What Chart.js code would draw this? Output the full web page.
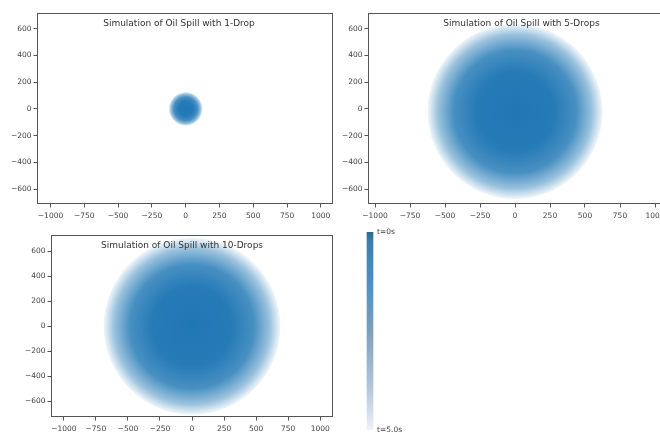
<!DOCTYPE html>
<html>
<head>
<meta charset="utf-8">
<script src="https://cdn.jsdelivr.net/npm/chart.js@4.4.1/dist/chart.umd.min.js"></script>
<style>
    html, body { margin: 0; padding: 0; background: #fff; overflow: hidden; }
    body { width: 660px; height: 437px; position: relative; }
    .box { position: absolute; }
</style>
</head>
<body>
<div class="box" style="left:3px;top:13px;width:331px;height:210px"><canvas id="spill1"></canvas></div>
<div class="box" style="left:334px;top:13px;width:345px;height:210px"><canvas id="spill5"></canvas></div>
<div class="box" style="left:17px;top:235px;width:317px;height:201px"><canvas id="spill10"></canvas></div>
<div class="box" style="left:364px;top:227px;width:70px;height:208px"><canvas id="timeBar"></canvas></div>
<script>
// tick positions
const xTicks = [-1000, -750, -500, -250, 0, 250, 500, 750, 1000];
const yTicks = [-600, -400, -200, 0, 200, 400, 600];

// one spill per panel: centre and final radius of the slick (data units)
const spillTitles = [
    'Simulation of Oil Spill with 1-Drop',
    'Simulation of Oil Spill with 5-Drops',
    'Simulation of Oil Spill with 10-Drops'
];
const spillX = [0, 0, 0];
const spillY = [0, -20, 0];
const spillRadius = [125, 625, 690];

// axis limits per panel
const xMin = [-1100, -1050, -1100];
const xMax = [1090, 1100, 1100];
const yMin = [-712, -712, -725];
const yMax = [718, 718, 730];

// time bar
const timeRange = [0, 5];
const timeLabels = ['t=0s', 't=5.0s'];

const OIL = '31,119,180';
const tickFont = { family: 'DejaVu Sans', size: 7.5 };
const titleShift = [-6, 3, -10];

// the slick is big: don't let it push the axes around
Chart.BubbleController.prototype.getMaxOverflow = function () { return false; };

// frame round the axes + title inside at the top
const framePlugin = {
    id: 'frame',
    afterDatasetsDraw(chart, args, opts) {
        const { ctx, chartArea: a } = chart;
        ctx.save();
        ctx.strokeStyle = '#555';
        ctx.lineWidth = 1;
        ctx.strokeRect(Math.round(a.left) + 0.5, Math.round(a.top) + 0.5, Math.round(a.right - a.left) - 1, Math.round(a.bottom - a.top) - 1);
        if (opts.text) {
            ctx.fillStyle = '#333';
            ctx.font = '9px "DejaVu Sans"';
            ctx.textAlign = 'center';
            ctx.textBaseline = 'middle';
            ctx.fillText(opts.text, (a.left + a.right) / 2 + (opts.shift || 0), a.top + 11);
        }
        ctx.restore();
    }
};

function pxRadius(chart, r) {
    const sx = chart.scales.x;
    const d = Math.abs(sx.getPixelForValue(r) - sx.getPixelForValue(0));
    return isFinite(d) ? d : 0;
}

function oilFill(c, r) {
    const chart = c.chart;
    const fallback = 'rgba(' + OIL + ',0.8)';
    if (!chart.chartArea || !c.raw) return fallback;
    const cx = chart.scales.x.getPixelForValue(c.raw.x);
    const cy = chart.scales.y.getPixelForValue(c.raw.y);
    const rp = pxRadius(chart, r);
    if (!isFinite(cx) || !isFinite(cy) || !(rp > 0)) return fallback;
    const g = chart.ctx.createRadialGradient(cx, cy, 0, cx, cy, rp);
    g.addColorStop(0, 'rgba(' + OIL + ',1)');
    g.addColorStop(0.45, 'rgba(' + OIL + ',0.97)');
    g.addColorStop(0.7, 'rgba(' + OIL + ',0.82)');
    g.addColorStop(0.88, 'rgba(' + OIL + ',0.45)');
    g.addColorStop(1, 'rgba(' + OIL + ',0.06)');
    return g;
}

function axis(min, max, ticks, size, pad) {
    return {
        type: 'linear',
        min: min,
        max: max,
        afterBuildTicks: s => { s.ticks = ticks.map(v => ({ value: v })); },
        afterFit: s => {
            if (s.isHorizontal()) s.height = size; else s.width = size;
            s.paddingTop = s.paddingBottom = s.paddingLeft = s.paddingRight = 0;
        },
        border: { display: false },
        grid: { drawOnChartArea: false, drawTicks: true, tickLength: 3.5, color: '#555' },
        ticks: {
            font: tickFont,
            color: '#444',
            padding: pad,
            maxRotation: 0,
            autoSkip: false,
            callback: v => String(v).replace('-', '\u2212')
        }
    };
}

function drawSpill(id, i, padRight) {
    const r = spillRadius[i];
    new Chart(document.getElementById(id), {
        type: 'bubble',
        data: {
            datasets: [{
                data: [{ x: spillX[i], y: spillY[i] }],
                parsing: false,
                radius: c => pxRadius(c.chart, r),
                backgroundColor: c => oilFill(c, r),
                borderWidth: 0
            }]
        },
        options: {
            responsive: true,
            maintainAspectRatio: false,
            animation: false,
            events: [],
            layout: { padding: { top: 0, left: 0, right: padRight, bottom: 0 } },
            plugins: {
                legend: { display: false },
                tooltip: { enabled: false },
                frame: { text: spillTitles[i], shift: titleShift[i] }
            },
            scales: {
                x: axis(xMin[i], xMax[i], xTicks, 19, 4),
                y: axis(yMin[i], yMax[i], yTicks, 34, 2)
            }
        },
        plugins: [framePlugin]
    });
}

drawSpill('spill1', 0, 1);
drawSpill('spill5', 1, 10);
drawSpill('spill10', 2, 1);

// colour bar for time
new Chart(document.getElementById('timeBar'), {
    type: 'bar',
    data: {
        labels: ['t'],
        datasets: [{
            data: [timeRange],
            barThickness: 6,
            borderWidth: 0,
            backgroundColor: c => {
                const a = c.chart.chartArea;
                if (!a) return '#4a8ab8';
                const g = c.chart.ctx.createLinearGradient(0, a.top, 0, a.bottom);
                g.addColorStop(0, '#2a6a88');
                g.addColorStop(0.05, '#3b7fae');
                g.addColorStop(0.25, '#4d8fc4');
                g.addColorStop(0.5, '#7d9fbd');
                g.addColorStop(0.8, '#b4c8da');
                g.addColorStop(1, '#eef2f7');
                return g;
            }
        }]
    },
    options: {
        responsive: true,
        maintainAspectRatio: false,
        animation: false,
        events: [],
        layout: { padding: { top: 5, bottom: 5, left: 0, right: 0 } },
        plugins: { legend: { display: false }, tooltip: { enabled: false } },
        scales: {
            x: { display: false },
            y: {
                type: 'linear',
                position: 'right',
                reverse: true,
                min: timeRange[0],
                max: timeRange[1],
                afterBuildTicks: s => { s.ticks = timeRange.map(v => ({ value: v })); },
                afterFit: s => {
                    s.width = 58;
                    s.paddingTop = s.paddingBottom = 0;
                },
                border: { display: false },
                grid: { display: false, drawTicks: false },
                ticks: {
                    font: tickFont,
                    color: '#444',
                    padding: 1,
                    callback: (v, idx) => timeLabels[idx]
                }
            }
        }
    }
});
</script>
</body>
</html>
